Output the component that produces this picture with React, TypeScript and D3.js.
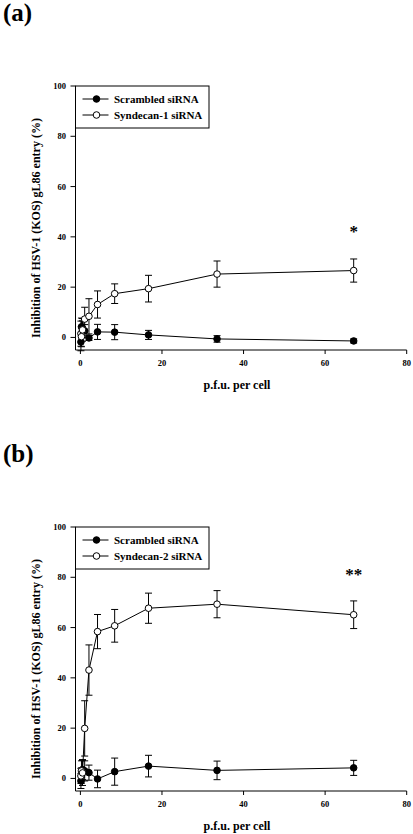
import React from "react";
import * as d3 from "d3";

// Virus dose (p.f.u. per cell)
const doses = [0.13, 0.26, 0.52, 1.05, 2.1, 4.2, 8.4, 16.7, 33.5, 67];

// Panel (a)
const aScrambled = [-1.8, 4.2, 3.6, 2.6, -0.2, 2.2, 2.1, 1.0, -0.6, -1.4];
const aScrambledErr = [3.5, 3.5, 3.0, 2.5, 1.0, 3.0, 3.0, 1.8, 1.3, 0.8];
const aSyndecan = [1.5, 0.3, 3.0, 7.3, 8.4, 13.1, 17.4, 19.4, 25.2, 26.6];
const aSyndecanErr = [5.0, 4.0, 4.5, 4.7, 7.0, 5.4, 3.9, 5.3, 5.2, 4.6];

// Panel (b)
const bScrambled = [-1.0, 1.2, 3.5, 3.0, 2.3, -0.2, 2.7, 4.9, 3.2, 4.2];
const bScrambledErr = [3.0, 3.0, 4.0, 4.0, 3.0, 3.5, 5.4, 4.3, 3.7, 3.0];
const bSyndecan = [1.0, 3.0, 2.2, 19.9, 43.1, 58.4, 60.7, 67.7, 69.3, 65.1];
const bSyndecanErr = [3.0, 4.0, 5.0, 11.0, 10.0, 6.8, 6.5, 6.0, 5.4, 5.5];

const xTicks = [0, 20, 40, 60, 80];
const yTicks = [0, 20, 40, 60, 80, 100];

const FONT = "'Liberation Serif', 'Times New Roman', serif";

type PanelProps = {
  dy: number;
  letter: string;
  scrambled: number[];
  scrambledErr: number[];
  syndecan: number[];
  syndecanErr: number[];
  syndecanName: string;
  star: string;
  starY: number;
};

function Series({ x, y, vals, errs, filled }: any) {
  const line = d3
    .line<number>()
    .x((_, i) => x(doses[i]))
    .y((v) => y(v));
  return (
    <g>
      {vals.map((v: number, i: number) => {
        const cx = x(doses[i]);
        const t = y(v + errs[i]);
        const b = y(v - errs[i]);
        return (
          <g key={"e" + i} stroke="#000" strokeWidth={1}>
            <line x1={cx} x2={cx} y1={t} y2={b} />
            <line x1={cx - 3.5} x2={cx + 3.5} y1={t} y2={t} />
            <line x1={cx - 3.5} x2={cx + 3.5} y1={b} y2={b} />
          </g>
        );
      })}
      <path d={line(vals) || ""} fill="none" stroke="#000" strokeWidth={1} />
      {vals.map((v: number, i: number) => (
        <circle
          key={"c" + i}
          cx={x(doses[i])}
          cy={y(v)}
          r={3.3}
          fill={filled ? "#000" : "#fff"}
          stroke="#000"
          strokeWidth={1}
        />
      ))}
    </g>
  );
}

function Panel(p: PanelProps) {
  const x = d3.scaleLinear().domain([-1.2, 80]).range([75.5, 406.7]);
  const y = d3.scaleLinear().domain([-5, 100]).range([350, 86]);
  const left = 75.5;
  const bottom = 350;
  return (
    <g transform={`translate(0,${p.dy})`} fontFamily={FONT} fontWeight="bold" fill="#000">
      <text x={3} y={21} fontSize={25}>
        {p.letter}
      </text>
      {/* axes */}
      <line x1={left} x2={left} y1={86} y2={bottom} stroke="#000" />
      <line x1={left} x2={406.7} y1={bottom} y2={bottom} stroke="#000" />
      {yTicks.map((t) => (
        <g key={"y" + t}>
          <line x1={left - 5} x2={left} y1={y(t)} y2={y(t)} stroke="#000" />
          <text x={66} y={y(t)} dy="0.35em" textAnchor="end" fontSize={8.5} fill="#000">
            {t}
          </text>
        </g>
      ))}
      {xTicks.map((t) => (
        <g key={"x" + t}>
          <line x1={x(t)} x2={x(t)} y1={bottom} y2={bottom + 4} stroke="#000" />
          <text x={x(t)} y={bottom + 16} textAnchor="middle" fontSize={8.5} fill="#000">
            {t}
          </text>
        </g>
      ))}
      <text x={237} y={389} textAnchor="middle" fontSize={12}>
        p.f.u. per cell
      </text>
      <text
        transform={`translate(40,228) rotate(-90)`}
        textAnchor="middle"
        fontSize={12}
      >
        Inhibition of HSV-1 (KOS) gL86 entry (%)
      </text>
      {/* data */}
      <Series x={x} y={y} vals={p.scrambled} errs={p.scrambledErr} filled />
      <Series x={x} y={y} vals={p.syndecan} errs={p.syndecanErr} filled={false} />
      <text x={x(67)} y={p.starY} textAnchor="middle" fontSize={17}>
        {p.star}
      </text>
      {/* legend */}
      <rect x={left} y={86} width={133.5} height={42} fill="#fff" stroke="#000" />
      <line x1={82.5} x2={108.5} y1={99} y2={99} stroke="#000" />
      <circle cx={96.5} cy={99} r={3.3} fill="#000" stroke="#000" />
      <text x={114} y={99} dy="0.35em" fontSize={11}>
        Scrambled siRNA
      </text>
      <line x1={82.5} x2={108.5} y1={115} y2={115} stroke="#000" />
      <circle cx={96.5} cy={115} r={3.3} fill="#fff" stroke="#000" />
      <text x={114} y={115} dy="0.35em" fontSize={11}>
        {p.syndecanName}
      </text>
    </g>
  );
}

export default function App() {
  return (
    <svg
      width={413}
      height={834}
      style={{ position: "absolute", left: 0, top: 0, background: "#fff" }}
    >
      <rect width={413} height={834} fill="#fff" />
      <Panel
        dy={0}
        letter="(a)"
        scrambled={aScrambled}
        scrambledErr={aScrambledErr}
        syndecan={aSyndecan}
        syndecanErr={aSyndecanErr}
        syndecanName="Syndecan-1 siRNA"
        star="*"
        starY={237}
      />
      <Panel
        dy={441}
        letter="(b)"
        scrambled={bScrambled}
        scrambledErr={bScrambledErr}
        syndecan={bSyndecan}
        syndecanErr={bSyndecanErr}
        syndecanName="Syndecan-2 siRNA"
        star="**"
        starY={139}
      />
    </svg>
  );
}
